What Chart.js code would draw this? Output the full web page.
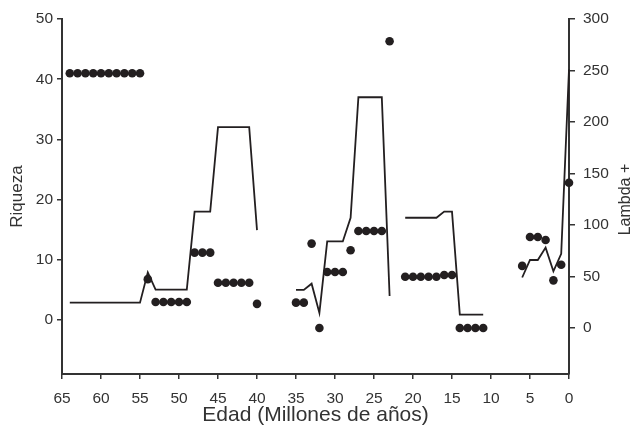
<!DOCTYPE html>
<html lang="es">
  <head>
    <meta charset="UTF-8" />
    <title>Riqueza y Lambda +</title>
    <script src="https://cdnjs.cloudflare.com/ajax/libs/Chart.js/4.4.1/chart.umd.min.js"></script>
    <style>
      body {
        margin: 0;
        padding: 0;
        background: #ffffff;
      }
      #wrap {
        width: 633px;
        height: 431px;
      }
    </style>
  </head>
  <body>
    <div id="wrap">
      <canvas id="chart" width="633" height="431"></canvas>
    </div>

    <script>
      // Riqueza (puntos, eje izquierdo)
      const riquezaAges = [
        64, 63, 62, 61, 60, 59, 58, 57, 56, 55, 54, 53, 52, 51, 50, 49, 48, 47,
        46, 45, 44, 43, 42, 41, 40, 35, 34, 33, 32, 31, 30, 29, 28, 27, 26, 25,
        24, 23, 21, 20, 19, 18, 17, 16, 15, 14, 13, 12, 11, 6, 5, 4, 3, 2, 1, 0,
      ];
      const riquezaVals = [
        41, 41, 41, 41, 41, 41, 41, 41, 41, 41, 6.8, 3, 3, 3, 3, 3, 11.2, 11.2,
        11.2, 6.2, 6.2, 6.2, 6.2, 6.2, 2.7, 2.9, 2.9, 12.7, -1.3, 8, 8, 8, 11.6,
        14.8, 14.8, 14.8, 14.8, 46.3, 7.2, 7.2, 7.2, 7.2, 7.2, 7.5, 7.5, -1.3,
        -1.3, -1.3, -1.3, 9, 13.8, 13.8, 13.3, 6.6, 9.2, 22.8,
      ];

      // Lambda + (línea, eje derecho); null = hueco
      const lambdaAges = [
        64, 63, 62, 61, 60, 59, 58, 57, 56, 55, 54, 53, 52, 51, 50, 49, 48, 47,
        46, 45, 44, 43, 42, 41, 40, 37, 35, 34, 33, 32, 31, 30, 29, 28, 27, 26,
        25, 24, 23, 22, 21, 20, 19, 18, 17, 16, 15, 14, 13, 12, 11, 8, 6, 5, 4,
        3, 2, 1, 0,
      ];
      const lambdaVals = [
        24.6, 24.6, 24.6, 24.6, 24.6, 24.6, 24.6, 24.6, 24.6, 24.6, 54, 37.2,
        37.2, 37.2, 37.2, 37.2, 113, 113, 113, 195, 195, 195, 195, 195, 95,
        null, 37, 37, 43, 14.6, 84, 84, 84, 107, 224, 224, 224, 224, 31, null,
        107, 107, 107, 107, 107, 113, 113, 13, 13, 13, 13, null, 49, 66, 66, 78,
        55, 72, 251,
      ];

      const xTicks = [65, 60, 55, 50, 45, 40, 35, 30, 25, 20, 15, 10, 5, 0];
      const yLeftTicks = [0, 10, 20, 30, 40, 50];
      const yRightTicks = [0, 50, 100, 150, 200, 250, 300];

      const ink = "#231f20";
      const axisColor = "#333333";
      const fontFamily = '"Liberation Sans", Arial, Helvetica, sans-serif';

      function fixTicks(list) {
        return function (scale) {
          scale.ticks = list.map((v) => ({ value: v }));
        };
      }

      // titulo del eje derecho, leido de abajo hacia arriba como el izquierdo
      const rightTitle = {
        id: "rightTitle",
        afterDraw(chart) {
          const s = chart.scales.y2;
          const c = chart.ctx;
          c.save();
          c.translate(s.right - 7, (s.top + s.bottom) / 2 + 3);
          c.rotate(-Math.PI / 2);
          c.fillStyle = axisColor;
          c.font = "16px " + fontFamily;
          c.textAlign = "center";
          c.textBaseline = "middle";
          c.fillText("Lambda +", 0, 0);
          c.restore();
        },
      };

      const ctx = document.getElementById("chart").getContext("2d");

      new Chart(ctx, {
        data: {
          datasets: [
            {
              type: "scatter",
              label: "Riqueza",
              data: riquezaAges.map((a, i) => ({ x: a, y: riquezaVals[i] })),
              yAxisID: "y",
              backgroundColor: ink,
              borderWidth: 0,
              pointRadius: 4.3,
              clip: false,
              order: 2,
            },
            {
              type: "line",
              label: "Lambda +",
              data: lambdaAges.map((a, i) => ({ x: a, y: lambdaVals[i] })),
              yAxisID: "y2",
              borderColor: ink,
              borderWidth: 1.8,
              pointRadius: 0,
              spanGaps: false,
              tension: 0,
              fill: false,
              clip: false,
              order: 1,
            },
          ],
        },
        options: {
          responsive: false,
          animation: false,
          devicePixelRatio: 1,
          layout: {
            padding: { top: 19, left: 0, right: 0, bottom: 0 },
          },
          plugins: {
            legend: { display: false },
            tooltip: { enabled: false },
          },
          scales: {
            x: {
              type: "linear",
              position: "bottom",
              reverse: true,
              min: 0,
              max: 65,
              afterBuildTicks: fixTicks(xTicks),
              afterFit: (s) => {
                s.height = 57;
              },
              border: { display: true, color: axisColor, width: 2 },
              grid: {
                display: true,
                drawOnChartArea: false,
                drawTicks: true,
                tickLength: 5,
                color: axisColor,
                lineWidth: 1.5,
              },
              ticks: {
                color: axisColor,
                padding: 10,
                maxRotation: 0,
                autoSkip: false,
                font: { family: fontFamily, size: 15.5 },
              },
              title: {
                display: true,
                text: "Edad (Millones de años)",
                color: axisColor,
                font: { family: fontFamily, size: 21 },
                padding: { top: 0, bottom: 3 },
              },
            },
            y: {
              type: "linear",
              position: "left",
              min: -8.95,
              max: 50,
              afterBuildTicks: fixTicks(yLeftTicks),
              afterFit: (s) => {
                s.width = 62;
              },
              border: { display: true, color: axisColor, width: 2 },
              grid: {
                display: true,
                drawOnChartArea: false,
                drawTicks: true,
                tickLength: 5,
                color: axisColor,
                lineWidth: 1.5,
              },
              ticks: {
                color: axisColor,
                padding: 4,
                font: { family: fontFamily, size: 15.5 },
              },
              title: {
                display: true,
                text: "Riqueza",
                color: axisColor,
                font: { family: fontFamily, size: 17 },
                padding: { top: 7, bottom: 0 },
              },
            },
            y2: {
              type: "linear",
              position: "right",
              min: -44.7,
              max: 300,
              afterBuildTicks: fixTicks(yRightTicks),
              afterFit: (s) => {
                s.width = 64;
              },
              border: { display: true, color: axisColor, width: 2 },
              grid: {
                display: true,
                drawOnChartArea: false,
                drawTicks: true,
                tickLength: 6,
                color: axisColor,
                lineWidth: 1.5,
              },
              ticks: {
                color: axisColor,
                padding: 8,
                font: { family: fontFamily, size: 15.5 },
              },
              title: { display: false },
            },
          },
        },
        plugins: [rightTitle],
      });
    </script>
  </body>
</html>
